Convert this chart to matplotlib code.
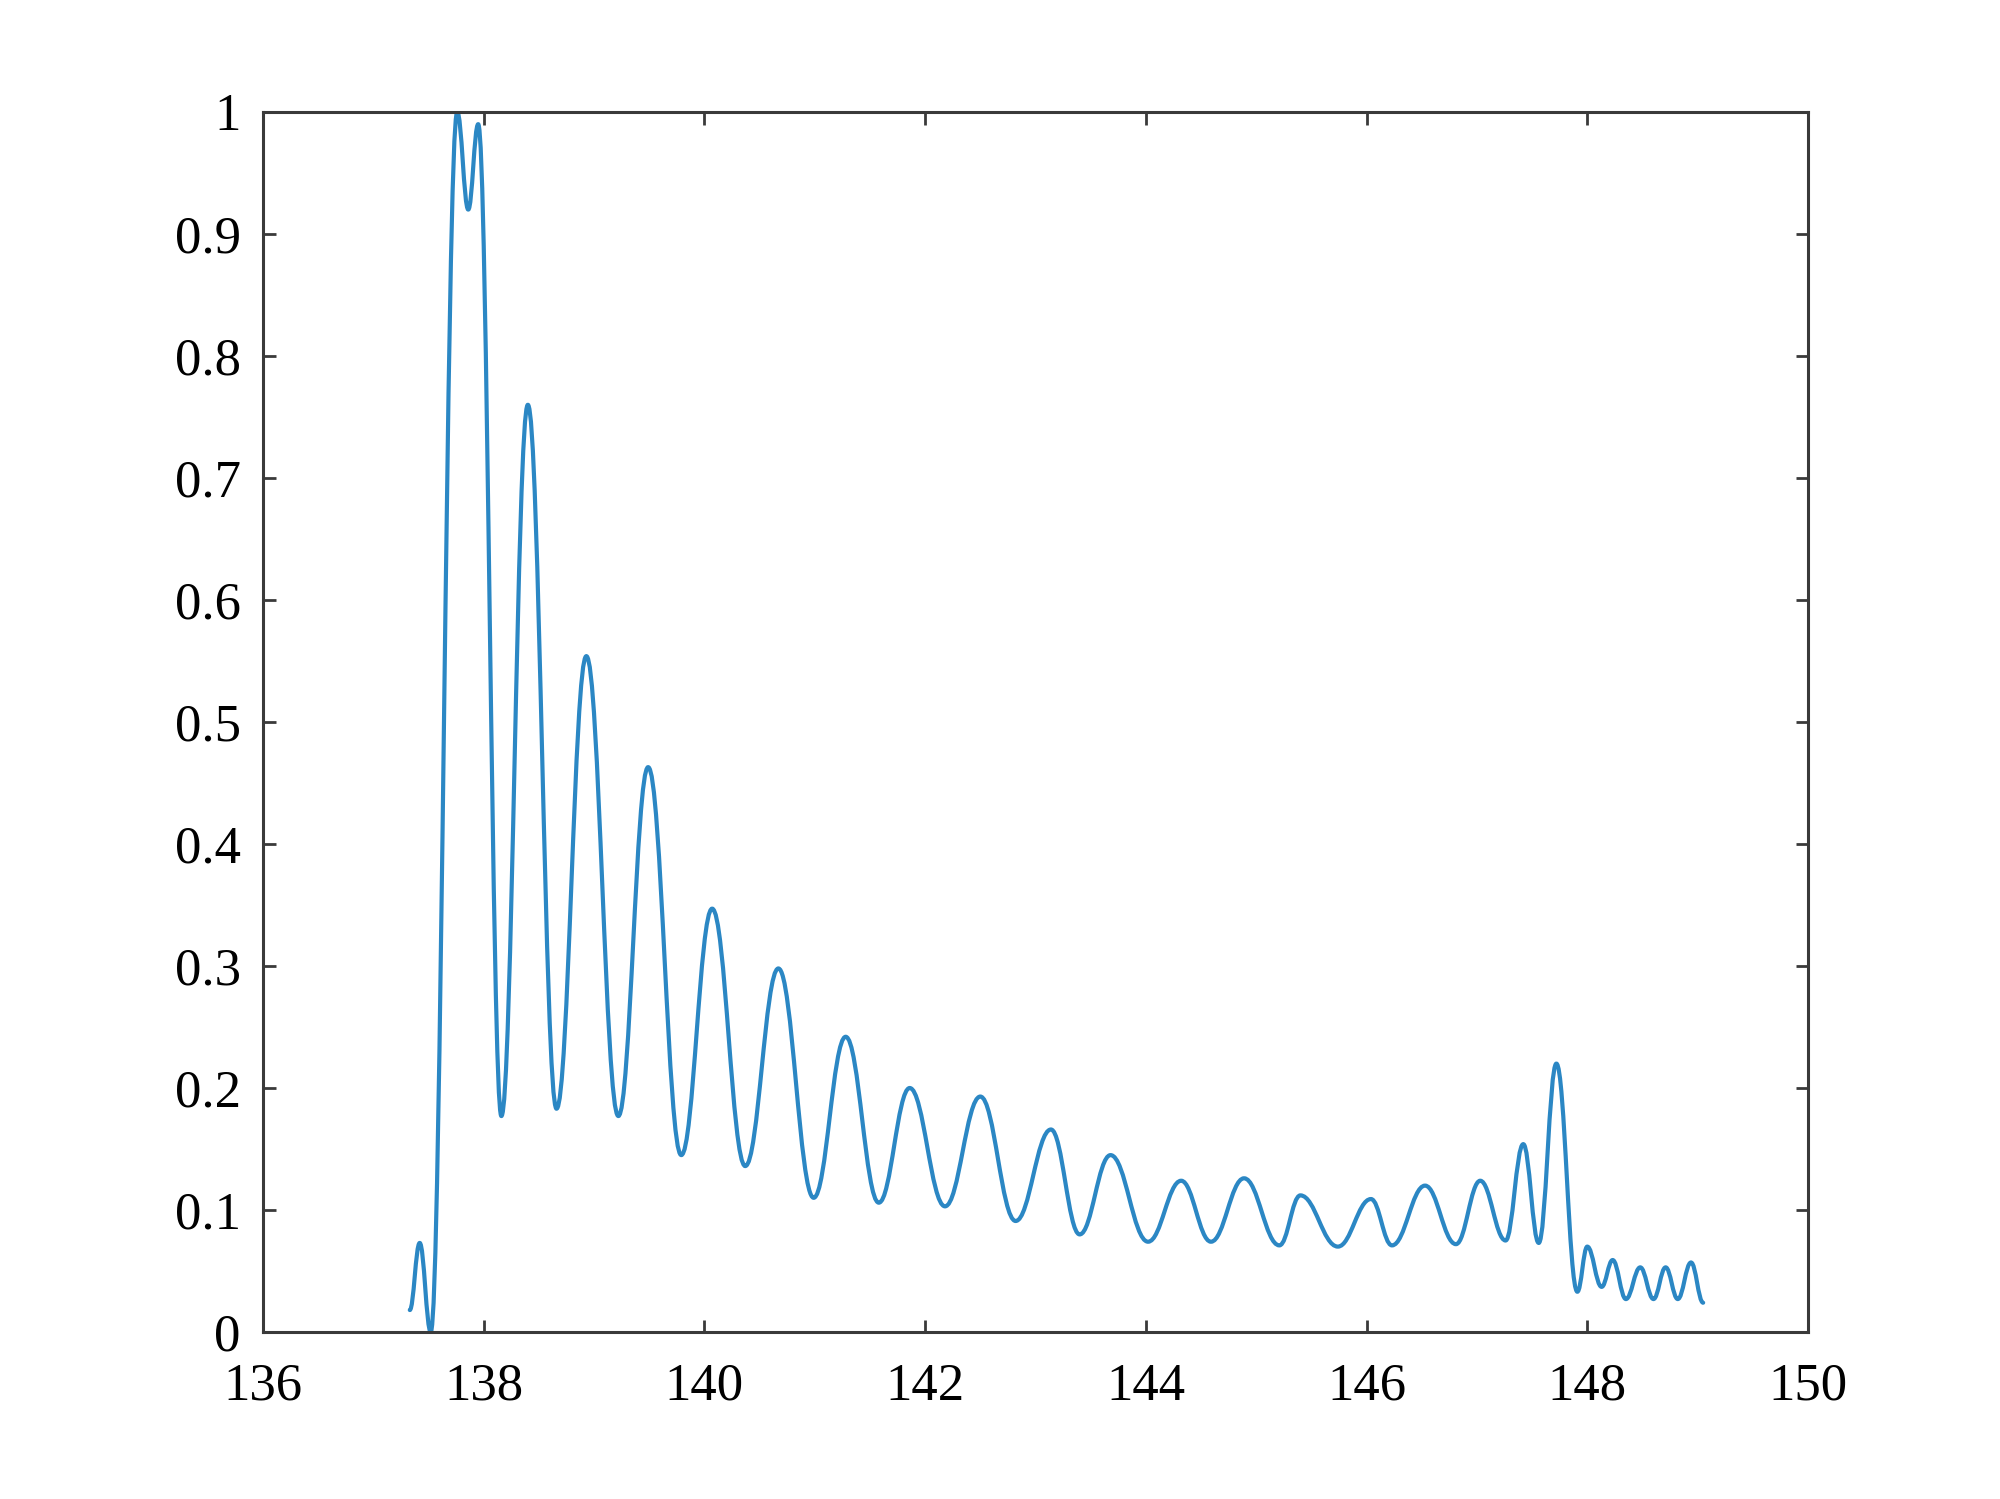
import matplotlib
matplotlib.use("Agg")
import matplotlib.pyplot as plt
from matplotlib.path import Path
from matplotlib.patches import PathPatch
from matplotlib.ticker import FormatStrFormatter

# extrema (peaks / troughs) of the curve, start and end included
x_ext = [137.33, 137.42, 137.52, 137.76, 137.86, 137.95, 138.16, 138.40, 138.66, 138.93,
         139.22, 139.49, 139.79, 140.07, 140.37, 140.67, 140.99, 141.28, 141.58, 141.86,
         142.18, 142.50, 142.82, 143.14, 143.40, 143.68, 144.02, 144.32, 144.59, 144.89,
         145.21, 145.40, 145.74, 146.04, 146.23, 146.53, 146.81, 147.03, 147.26, 147.42,
         147.56, 147.72, 147.91, 148.00, 148.13, 148.23, 148.35, 148.48, 148.60, 148.71,
         148.82, 148.94, 149.05]
y_ext = [0.018, 0.073, 0.000, 1.000, 0.920, 0.990, 0.177, 0.760, 0.183, 0.554,
         0.177, 0.463, 0.145, 0.347, 0.136, 0.298, 0.110, 0.242, 0.106, 0.200,
         0.103, 0.193, 0.091, 0.166, 0.080, 0.145, 0.074, 0.124, 0.074, 0.126,
         0.071, 0.112, 0.070, 0.109, 0.071, 0.120, 0.072, 0.124, 0.075, 0.154,
         0.073, 0.220, 0.033, 0.070, 0.037, 0.059, 0.027, 0.053, 0.027, 0.053,
         0.027, 0.057, 0.024]

x_ticks = list(range(136, 151, 2))
y_ticks = [0, 0.1, 0.2, 0.3, 0.4, 0.5, 0.6, 0.7, 0.8, 0.9, 1]

plt.rcParams['font.family'] = ['Liberation Serif', 'DejaVu Serif']

fig = plt.figure(figsize=(20, 14.99), dpi=100)
ax = fig.add_axes([0.1315, 0.1114, 0.7725, 0.8139])

# smooth curve: cubic bezier between neighbouring extrema, flat tangent at each one
verts = [(x_ext[0], y_ext[0])]
codes = [Path.MOVETO]
k = 0.40
for i in range(len(x_ext) - 1):
    x0, y0, x1, y1 = x_ext[i], y_ext[i], x_ext[i + 1], y_ext[i + 1]
    dx = x1 - x0
    verts += [(x0 + k * dx, y0), (x1 - k * dx, y1), (x1, y1)]
    codes += [Path.CURVE4] * 3
curve = PathPatch(Path(verts, codes), fill=False, edgecolor='#2b87c4', lw=3.0,
                  joinstyle='round', capstyle='round')
ax.add_patch(curve)

ax.set_xlim(136, 150)
ax.set_ylim(0, 1)
ax.set_xticks(x_ticks)
ax.set_yticks(y_ticks)
ax.yaxis.set_major_formatter(FormatStrFormatter('%g'))

for s in ax.spines.values():
    s.set_color('#3a3a3a')
    s.set_linewidth(2.2)
ax.tick_params(direction='in', length=9, width=2, color='#3a3a3a',
               top=True, right=True, labelsize=38, labelcolor='black')
ax.tick_params(axis='x', pad=22)
ax.tick_params(axis='y', pad=16)

fig.savefig('out.png', dpi=100, facecolor='white')
